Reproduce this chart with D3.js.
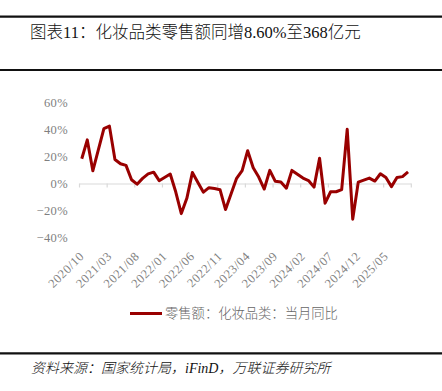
<!DOCTYPE html>
<html>
<head>
<meta charset="utf-8">
<script src="https://cdn.jsdelivr.net/npm/d3@7/dist/d3.min.js"></script>
<style>
  html, body { margin: 0; padding: 0; background: #fff; }
  svg { display: block; }
</style>
</head>
<body>
<svg id="chart" width="442" height="391"></svg>
<script>
// ---------- DATA ----------
const titleText = "图表11：化妆品类零售额同增8.60%至368亿元";
const sourceText = "资料来源：国家统计局，iFinD，万联证券研究所";
const seriesName = "零售额：化妆品类：当月同比";

const categories = [
  "2020/10","2020/11","2020/12",
  "2021/01","2021/02","2021/03","2021/04","2021/05","2021/06","2021/07","2021/08","2021/09","2021/10","2021/11","2021/12",
  "2022/01","2022/02","2022/03","2022/04","2022/05","2022/06","2022/07","2022/08","2022/09","2022/10","2022/11","2022/12",
  "2023/01","2023/02","2023/03","2023/04","2023/05","2023/06","2023/07","2023/08","2023/09","2023/10","2023/11","2023/12",
  "2024/01","2024/02","2024/03","2024/04","2024/05","2024/06","2024/07","2024/08","2024/09","2024/10","2024/11","2024/12",
  "2025/01","2025/02","2025/03","2025/04","2025/05","2025/06","2025/07","2025/08","2025/09"
];
// YoY %, January not published separately (null)
const values = [
  18.3, 32.3, 9.4,
  null, 40.7, 42.5, 17.8, 14.6, 13.4, 2.8, -0.5, 3.8, 7.1, 8.4, 2.1,
  null, 7.0, -6.3, -22.3, -11.0, 8.1, 0.7, -6.4, -3.1, -3.7, -4.6, -19.3,
  null, 3.8, 9.6, 24.3, 11.7, 4.8, -4.1, 9.7, 1.6, 1.1, -3.5, 9.7,
  null, 4.0, 2.2, -2.7, 18.7, -14.6, -6.1, -6.1, -4.5, 40.1, -26.4, 1.0,
  null, 4.0, 1.8, 7.2, 4.4, -2.3, 4.5, 5.1, 8.6
];
const xTickLabels = ["2020/10","2021/03","2021/08","2022/01","2022/06","2022/11","2023/04","2023/09","2024/02","2024/07","2024/12","2025/05"];
const yTicks = [-40, -20, 0, 20, 40, 60];

// ---------- LAYOUT ----------
const svg = d3.select("#chart");
const W = 442, H = 391;
const lineColor = "#990000";
const CJK = "'Liberation Serif', 'Noto Sans CJK SC', serif";

// rules
[16.7, 70, 353.3].forEach(yy => {
  svg.append("line").attr("x1", 0).attr("x2", W).attr("y1", yy).attr("y2", yy)
    .attr("stroke", "#111").attr("stroke-width", 2.2);
});

// title
svg.append("text").attr("x", 30).attr("y", 37.5)
  .attr("font-family", CJK).attr("font-size", 16.5).attr("font-weight", 300).attr("fill", "#111")
  .text(titleText);

// source
svg.append("text").attr("x", 31).attr("y", 373)
  .attr("font-family", CJK).attr("font-size", 14).attr("font-weight", 300)
  .attr("font-style", "italic").attr("fill", "#111")
  .text(sourceText);

// scales
const x0 = 79, x1 = 410.8;
const xBand = d3.scaleBand().domain(categories).range([x0, x1]).paddingInner(0).paddingOuter(0);
const xIdx = d3.scaleLinear().domain([0, categories.length]).range([x0, x1]);
const y = d3.scaleLinear().domain([-40, 60]).range([237.5, 102.5]);

// y axis labels
const yAxis = d3.axisLeft(y).tickValues(yTicks).tickSize(0).tickPadding(0)
  .tickFormat(d => (d < 0 ? "−" + Math.abs(d) : d) + "%");
const gy = svg.append("g").attr("transform", "translate(68,0)").call(yAxis);
gy.select(".domain").remove();
gy.selectAll("text").attr("font-family", "'Liberation Serif', serif").attr("font-size", 12.5)
  .attr("letter-spacing", 0.4).attr("fill", "#7f7f7f");

// x axis: baseline + boundary ticks
const tickIdx = d3.range(0, categories.length + 1, 5);
const xTickAxis = d3.axisBottom(xIdx).tickValues(tickIdx).tickSize(4).tickSizeOuter(0).tickFormat("");
const gxt = svg.append("g").attr("transform", `translate(0,${y(0)})`).call(xTickAxis);
gxt.select(".domain").attr("stroke", "#d9d9d9").attr("stroke-width", 1.2);
gxt.selectAll(".tick line").attr("stroke", "#d9d9d9").attr("stroke-width", 1.2);

// x axis labels (rotated)
const xLabAxis = d3.axisBottom(xBand).tickValues(xTickLabels).tickSize(0).tickPadding(0);
const gxl = svg.append("g").call(xLabAxis);
gxl.select(".domain").remove();
gxl.selectAll(".tick").attr("transform", d => `translate(${xBand(d) + xBand.bandwidth() / 2 + 3},257)`);
gxl.selectAll(".tick text")
  .attr("font-family", "'Liberation Serif', serif").attr("font-size", 12.5).attr("letter-spacing", 0.5)
  .attr("fill", "#7f7f7f")
  .attr("text-anchor", "end").attr("x", 0).attr("y", 0).attr("dy", 0)
  .attr("transform", "rotate(-45)");

// line (connect across missing January values)
const pts = categories.map((c, i) => ({ c, v: values[i] })).filter(d => d.v !== null);
const line = d3.line()
  .x(d => xBand(d.c) + xBand.bandwidth() / 2)
  .y(d => y(d.v));
svg.append("path").datum(pts)
  .attr("d", line).attr("fill", "none").attr("stroke", lineColor)
  .attr("stroke-width", 3).attr("stroke-linejoin", "round");

// legend
svg.append("line").attr("x1", 130).attr("x2", 162).attr("y1", 313.5).attr("y2", 313.5)
  .attr("stroke", lineColor).attr("stroke-width", 3);
svg.append("text").attr("x", 165).attr("y", 313.5).attr("dy", "0.35em")
  .attr("font-family", CJK).attr("font-size", 13.3).attr("font-weight", 300).attr("fill", "#666")
  .text(seriesName);
</script>
</body>
</html>
